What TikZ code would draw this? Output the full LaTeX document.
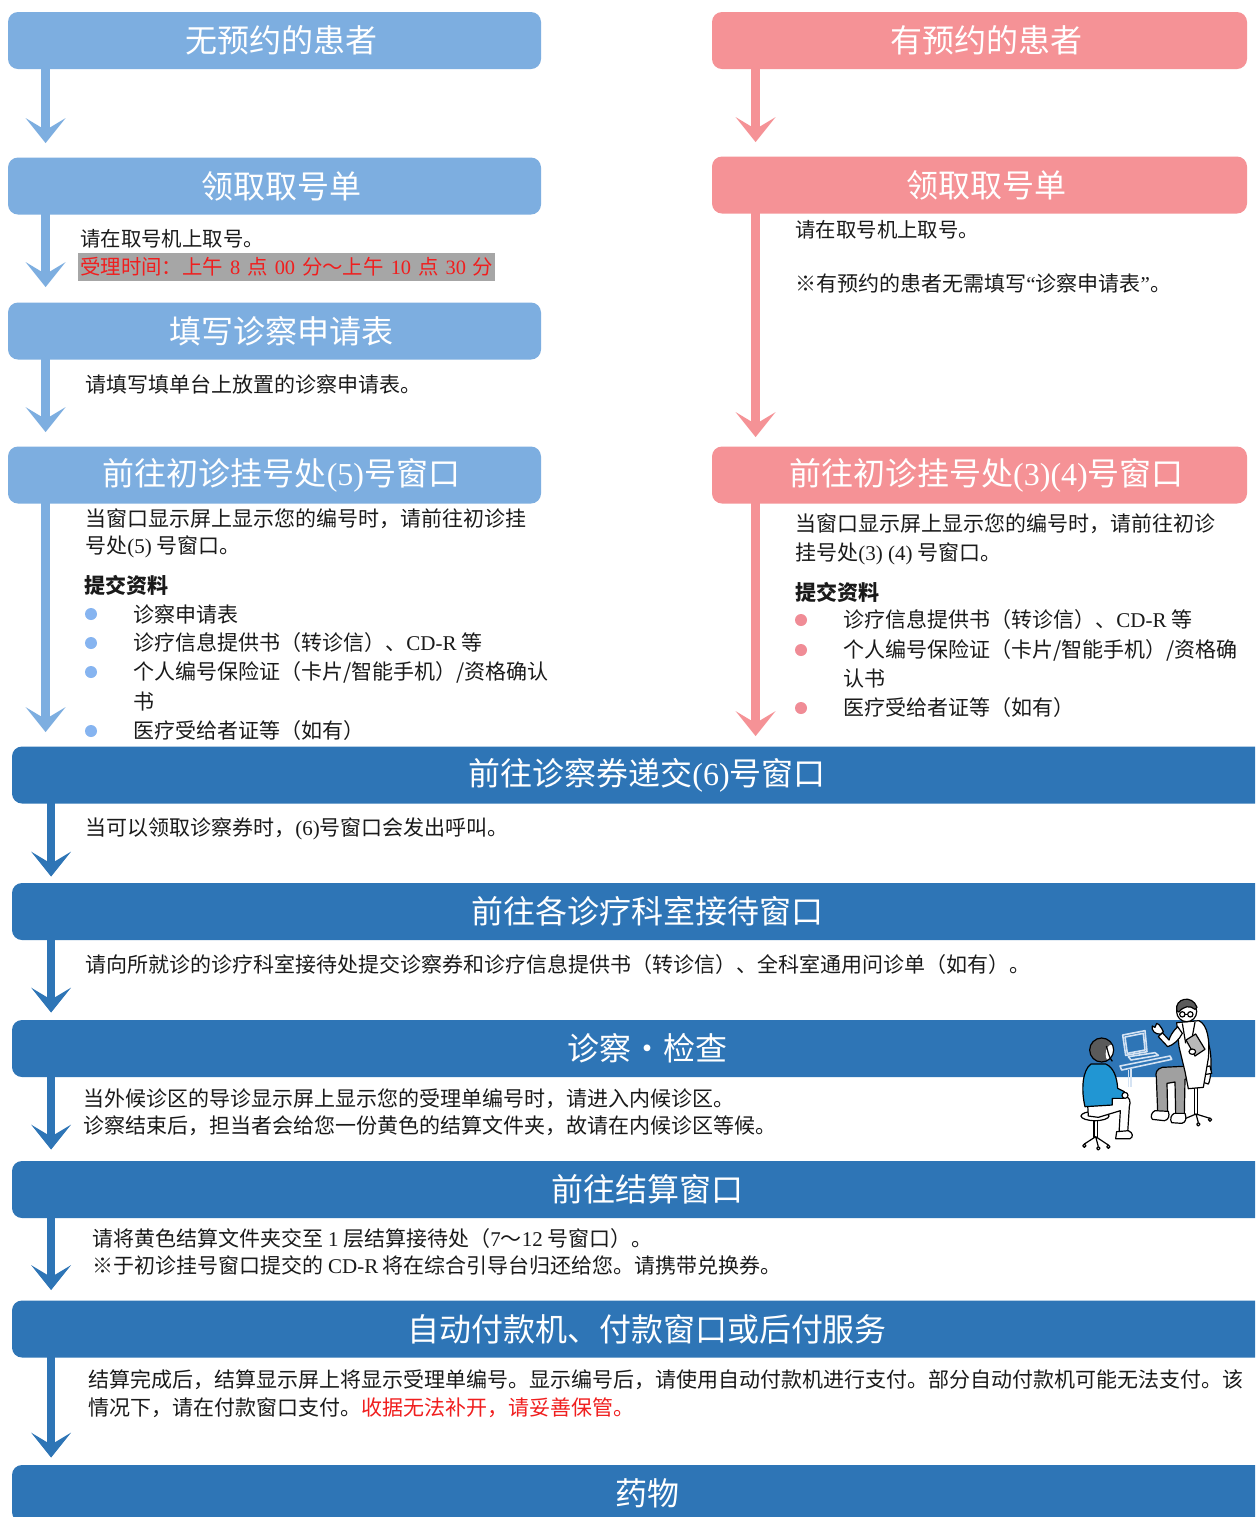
\documentclass[tikz,border=0pt]{standalone}
\usepackage{fontspec}
\setmainfont{Noto Sans CJK SC}
\newfontfamily\latf{Liberation Serif}
\newcommand\lat[1]{{\latf #1}}
\usetikzlibrary{arrows.meta,calc}
\definecolor{lblue}{HTML}{7DAEE0}
\definecolor{pinkc}{HTML}{F59296}
\definecolor{dblue}{HTML}{2E75B6}
\definecolor{bodyc}{HTML}{1A1A1A}
\definecolor{hlgray}{HTML}{A6A6A6}
\definecolor{redt}{HTML}{F01E1E}
\definecolor{lbullet}{HTML}{86B4F0}
\definecolor{pbullet}{HTML}{F08C96}
\definecolor{pblue}{HTML}{2196D3}
\definecolor{hairc}{HTML}{5A5A5A}
\definecolor{legc}{HTML}{A0A0A0}
\definecolor{clipc}{HTML}{B8B8B8}
\definecolor{deskc}{HTML}{D5E3F3}
\begin{document}
\begin{tikzpicture}[x=0.5pt,y=-0.5pt,
  every node/.style={inner sep=0pt},
  hbox/.style={rounded corners=5pt, minimum height=28.5pt, text=white, font=\fontsize{16}{18}\selectfont},
  lbox/.style={hbox, fill=lblue, minimum width=266.5pt},
  pbox/.style={hbox, fill=pinkc, minimum width=267.5pt},
  dbox/.style={hbox, fill=dblue, minimum width=635pt},
  txt/.style={anchor=west, text=bodyc, font=\fontsize{10.5}{12}\selectfont},
  stxt/.style={txt, font=\fontsize{10.2}{12}\selectfont},
  lbul/.style={circle, fill=lbullet, minimum size=6pt},
  pbul/.style={circle, fill=pbullet, minimum size=6pt},
  tipshape/.style={-{Stealth[length=12.5pt, width=20pt, inset=6pt, line width=0pt]}},
  lflow/.style={draw=lblue, line width=4.5pt, tipshape},
  pflow/.style={draw=pinkc, line width=4.5pt, tipshape},
  dflow/.style={draw=dblue, line width=4pt, tipshape},
  outl/.style={draw=black, line width=0.6pt, line join=round}
]
\useasboundingbox (0,0) rectangle (1255,1517);
\clip (0,0) rectangle (1255,1517);
\fill[white] (0,0) rectangle (1255,1517);

% ---------- left column (no reservation) ----------
\node[lbox] (L1) at (274.5,40.5) {\hspace*{7pt}无预约的患者};
\node[lbox] (L2) at (274.5,186) {\hspace*{7pt}领取取号单};
\node[lbox] (L3) at (274.5,331) {\hspace*{7pt}填写诊察申请表};
\node[lbox] (L4) at (274.5,475) {\hspace*{7pt}前往初诊挂号处\lat{(5)}号窗口};

% ---------- right column (reservation) ----------
\node[pbox] (P1) at (979.5,40.5) {\hspace*{7pt}有预约的患者};
\node[pbox] (P2) at (979.5,185) {\hspace*{7pt}领取取号单};
\node[pbox] (P4) at (979.5,475) {\hspace*{7pt}前往初诊挂号处\lat{(3)(4)}号窗口};

% ---------- common dark boxes ----------
\node[dbox] (D1) at (647,775) {前往诊察券递交\lat{(6)}号窗口};
\node[dbox] (D2) at (647,911.5) {前往各诊疗科室接待窗口};
\node[dbox] (D3) at (647,1048.5) {诊察・检查};
\node[dbox] (D4) at (647,1189.5) {前往结算窗口};
\node[dbox] (D5) at (647,1329) {自动付款机、付款窗口或后付服务};
\node[dbox] (D6) at (647,1493.5) {药物};

% ---------- arrows ----------
\draw[lflow] ($(L1.south west)+(38,-3)$) -- ($(L2.north west)+(38,-14)$);
\draw[lflow] ($(L2.south west)+(38,-3)$) -- ($(L3.north west)+(38,-15)$);
\draw[lflow] ($(L3.south west)+(38,-3)$) -- ($(L4.north west)+(38,-14)$);
\draw[lflow] ($(L4.south west)+(38,-3)$) -- ($(D1.north west)+(34,-14)$);
\draw[pflow] ($(P1.south west)+(44,-3)$) -- ($(P2.north west)+(44,-14)$);
\draw[pflow] ($(P2.south west)+(44,-3)$) -- ($(P4.north west)+(44,-9)$);
\draw[pflow] ($(P4.south west)+(44,-3)$) -- ($(D1.north west)+(744,-10)$);
\draw[dflow] ($(D1.south west)+(39.5,-3)$) -- ($(D2.north west)+(39.5,-6)$);
\draw[dflow] ($(D2.south west)+(39.5,-3)$) -- ($(D3.north west)+(39.5,-7)$);
\draw[dflow] ($(D3.south west)+(39.5,-3)$) -- ($(D4.north west)+(39.5,-11)$);
\draw[dflow] ($(D4.south west)+(39.5,-3)$) -- ($(D5.north west)+(39.5,-10)$);
\draw[dflow] ($(D5.south west)+(39.5,-3)$) -- ($(D6.north west)+(39.5,-7)$);

% ---------- left texts ----------
\node[stxt] (t1) at (80,239) {请在取号机上取号。};
\node[stxt, fill=hlgray, text=redt, minimum height=14pt, inner xsep=1pt] (t2) at (78,267)
  {受理时间：上午\hspace{3.5pt}\lat{8}\hspace{3.5pt}点\hspace{3.5pt}\lat{00}\hspace{3.5pt}分～上午\hspace{3.5pt}\lat{10}\hspace{3.5pt}点\hspace{3.5pt}\lat{30}\hspace{3.5pt}分};
\node[txt] (t3) at (85,384) {请填写填单台上放置的诊察申请表。};
\node[txt] (t4) at (85,519) {当窗口显示屏上显示您的编号时，请前往初诊挂};
\node[txt] (t5) at (85,547) {号处\lat{(5)} 号窗口。};
\node[txt, font=\fontsize{10.5}{12}\selectfont\bfseries] (t6) at (84,585) {提交资料};
\node[lbul] (lb1) at (91,614) {};
\node[lbul] (lb2) at (91,643) {};
\node[lbul] (lb3) at (91,672) {};
\node[lbul] (lb4) at (91,731) {};
\node[txt] (t7) at (133,614) {诊察申请表};
\node[txt] (t8) at (133,643) {诊疗信息提供书（转诊信）、\lat{CD-R} 等};
\node[txt] (t9) at (133,672) {个人编号保险证（卡片/智能手机）/资格确认};
\node[txt] (t10) at (133,702) {书};
\node[txt] (t11) at (133,731) {医疗受给者证等（如有）};

% ---------- right texts ----------
\node[stxt] (r1) at (795,230) {请在取号机上取号。};
\node[txt] (r2) at (795,283) {※有预约的患者无需填写\lat{“}诊察申请表\lat{”}。};
\node[txt] (r3) at (795,524) {当窗口显示屏上显示您的编号时，请前往初诊};
\node[txt] (r4) at (795,554) {挂号处\lat{(3) (4)} 号窗口。};
\node[txt, font=\fontsize{10.5}{12}\selectfont\bfseries] (r5) at (795,592) {提交资料};
\node[pbul] (pb1) at (801,620) {};
\node[pbul] (pb2) at (801,650) {};
\node[pbul] (pb3) at (801,708) {};
\node[txt] (r6) at (843,620) {诊疗信息提供书（转诊信）、\lat{CD-R} 等};
\node[txt] (r7) at (843,650) {个人编号保险证（卡片/智能手机）/资格确};
\node[txt] (r8) at (843,679) {认书};
\node[txt] (r9) at (843,708) {医疗受给者证等（如有）};

% ---------- common texts ----------
\node[txt] (c1) at (85,829) {当可以领取诊察券时，\lat{(6)}号窗口会发出呼叫。};
\node[txt] (c2) at (85,965) {请向所就诊的诊疗科室接待处提交诊察券和诊疗信息提供书（转诊信）、全科室通用问诊单（如有）。};
\node[txt] (c3) at (83,1099) {当外候诊区的导诊显示屏上显示您的受理单编号时，请进入内候诊区。};
\node[txt] (c4) at (83,1126) {诊察结束后，担当者会给您一份黄色的结算文件夹，故请在内候诊区等候。};
\node[txt] (c5) at (92,1239) {请将黄色结算文件夹交至 \lat{1} 层结算接待处（\lat{7}～\lat{12} 号窗口）。};
\node[txt] (c6) at (92,1265) {※于初诊挂号窗口提交的 \lat{CD-R} 将在综合引导台归还给您。请携带兑换券。};
\node[txt] (c7) at (88,1380) {结算完成后，结算显示屏上将显示受理单编号。显示编号后，请使用自动付款机进行支付。部分自动付款机可能无法支付。该};
\node[txt] (c8) at (88,1408) {情况下，请在付款窗口支付。\textcolor{redt}{收据无法补开，请妥善保管。}};

% ---------- illustration: doctor and patient ----------
\begin{scope}[shift={(1075,990)}, x=0.16667pt, y=-0.16667pt]
  % patient stool
  \draw[outl, fill=white] (57,388) rectangle (67,442);
  \draw[outl] (62,440) -- (28,462) (62,440) -- (100,465) (62,440) -- (70,470);
  \draw[outl, fill=white] (28,467) circle [radius=5] (100,470) circle [radius=5] (70,475) circle [radius=5];
  \draw[outl, fill=white] (60,378) ellipse [x radius=42, y radius=14];
  % patient legs
  \draw[outl, fill=white] (38,345) -- (145,318) .. controls (165,318) and (168,335) .. (163,350) -- (158,428) -- (132,430) -- (136,362) -- (70,382) -- (40,378) -- cycle;
  \draw[outl, fill=white] (125,425) -- (160,422) .. controls (175,428) and (175,442) .. (165,446) -- (122,446) -- cycle;
  % patient torso
  \draw[outl, fill=pblue] (48,222) .. controls (22,240) and (18,300) .. (30,350) -- (112,345) -- (112,325) -- (145,325) -- (148,305) -- (128,295) .. controls (126,262) and (116,232) .. (92,222) -- cycle;
  \draw[outl, fill=white] (150,316) circle [radius=9];
  % patient head
  \fill[hairc] (80,180) circle [radius=36];
  \begin{scope}
    \clip (80,180) circle [radius=36];
    \fill[white] (110,192) ellipse [x radius=18, y radius=28];
  \end{scope}
  \draw[outl] (80,180) circle [radius=36];
  \draw[outl] (94,168) .. controls (100,185) and (100,200) .. (112,214);
  % desk and laptop
  \begin{scope}[draw=deskc, line width=0.8pt, line join=round]
    \draw (143,135) -- (210,122) -- (216,185) -- (152,196) -- cycle;
    \draw (150,141) -- (205,130) -- (210,180) -- (157,190) -- cycle;
    \draw (160,200) -- (240,188) -- (250,196) -- (168,210) -- cycle;
    \draw (135,228) -- (285,198) -- (290,208) -- (140,240) -- cycle;
    \draw (160,240) -- (160,292) (168,238) -- (168,290);
  \end{scope}
  % doctor chair
  \draw[outl, fill=white] (358,285) rectangle (368,374);
  \draw[outl] (363,372) -- (325,388) (363,372) -- (405,385) (363,372) -- (370,398);
  \draw[outl, fill=white] (325,392) circle [radius=5] (405,389) circle [radius=5] (370,403) circle [radius=5];
  \draw[outl, fill=white] (392,150) .. controls (412,160) and (412,260) .. (400,282) -- (385,277) .. controls (395,240) and (395,180) .. (382,155) -- cycle;
  \draw[outl, fill=white] (340,238) -- (405,228) -- (410,250) -- (345,262) -- cycle;
  % doctor legs
  \draw[outl, fill=legc] (345,228) -- (262,232) .. controls (245,236) and (240,250) .. (244,262) -- (248,365) -- (278,368) -- (276,280) -- (300,276) -- (302,372) -- (328,372) -- (330,268) -- (348,262) -- cycle;
  \draw[outl, fill=white] (240,362) -- (280,364) .. controls (285,378) and (280,390) .. (268,392) -- (232,388) .. controls (225,380) and (230,366) .. (240,362) -- cycle;
  \draw[outl, fill=white] (298,370) -- (330,370) .. controls (336,385) and (332,398) .. (320,400) -- (290,398) .. controls (284,388) and (288,374) .. (298,370) -- cycle;
  % doctor coat
  \draw[outl, fill=white] (305,98) -- (372,92) .. controls (398,105) and (405,150) .. (400,205) -- (385,292) -- (340,296) -- (330,245) -- (312,170) -- cycle;
  \draw[outl] (322,100) -- (332,160) (360,96) -- (350,150);
  % raised arm and hand
  \draw[outl, fill=white] (308,110) .. controls (292,125) and (285,140) .. (282,150) -- (262,128) -- (250,140) -- (278,170) .. controls (295,165) and (312,150) .. (322,130) -- cycle;
  \draw[outl, fill=white] (258,132) .. controls (240,135) and (228,120) .. (232,108) -- (240,112) -- (245,100) -- (252,104) -- (260,115) -- (265,125) -- cycle;
  % clipboard
  \draw[outl, fill=clipc] (333,150) -- (362,132) -- (390,178) -- (360,198) -- cycle;
  \draw[outl, fill=white] (352,185) ellipse [x radius=10, y radius=8];
  % doctor head
  \draw[outl, fill=white] (335,65) circle [radius=30];
  \draw[outl, fill=hairc] (305,62) .. controls (298,25) and (352,12) .. (366,52) -- (360,58) .. controls (345,45) and (325,48) .. (312,66) -- cycle;
  \draw[outl] (322,73) circle [radius=8] (346,73) circle [radius=8] (330,73) -- (338,73);
\end{scope}
\end{tikzpicture}
\end{document}
